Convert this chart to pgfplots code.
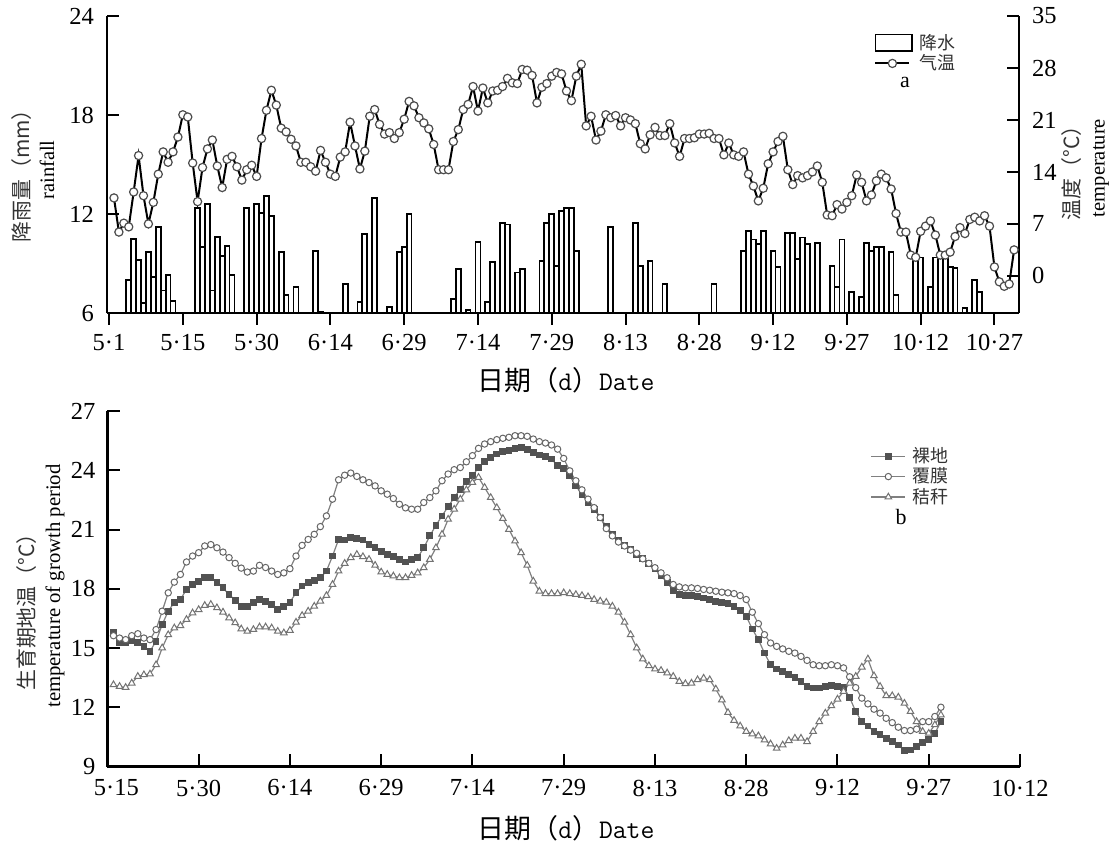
\documentclass[border=0pt]{standalone}
\usepackage{fontspec}
\setmainfont{Liberation Serif}
\newfontfamily\cjk{Noto Sans CJK SC}
\usepackage{pgfplots}
\pgfplotsset{compat=1.18}
\pgfplotsset{
  common/.style={
    scale only axis,
    major tick length=5.8bp,
    tick style={black, line width=1bp},
    axis line style={-, line width=1.3bp},
    tick label style={font=\fontsize{12.3}{13}\selectfont},
    /pgf/number format/assume math mode=true,
  },
  leg/.style={legend style={draw=none, fill=none, inner sep=0pt, row sep=0pt,
    column sep=2.5bp,
    nodes={inner sep=0.6bp},
    font=\cjk\fontsize{9}{10}\selectfont, text=black!80,
    anchor=north west}, legend cell align=left},
}
\begin{document}
\begin{tikzpicture}
\useasboundingbox (0bp,0bp) rectangle (556.5bp,-422bp);

% ---------- top: rainfall bars ----------
\begin{axis}[common, axis on top,
  at={(53.5bp,-156.5bp)}, anchor=south west,
  width=456bp, height=148.5bp,
  xmin=-1.42, xmax=184,
  ymin=6, ymax=24, ytick={6,12,18,24},
  axis x line*=bottom, axis y line*=left,
  xtick align=inside, ytick align=inside,
  xtick={-1,14,...,179},
  xticklabels={5·1,5·15,5·30,6·14,6·29,7·14,7·29,8·13,8·28,9·12,9·27,10·12,10·27},
  xticklabel style={yshift=-1.5bp},
  yticklabel style={xshift=-3bp},
  ybar, bar width=1,
]
\addplot[draw=black, fill=white, line width=0.9bp] coordinates {
(3,7.98)(4,10.5)(5,9.19)(6,6.59)(7,9.68)(8,8.18)(9,11.19)(10,7.37)(11,8.28)(12,6.75)
(17,12.38)(18,9.98)(19,12.6)(20,7.37)(21,10.6)(22,9.45)(23,10.08)(24,8.28)
(27,12.38)(29,12.6)(30,12.08)(31,13.09)(32,11.88)(34,9.68)(35,7.09)(37,7.56)
(41,9.76)(42,6.08)(47,7.76)(50,6.65)(51,10.77)(53,12.97)(56,6.35)(58,9.68)(59,9.98)(60,11.98)
(69,6.87)(70,8.67)(72,6.18)(74,10.28)(76,6.67)(77,9.09)(79,11.47)(80,11.37)(82,8.46)(83,8.67)
(87,9.17)(88,11.47)(89,11.98)(90,8.87)(91,12.18)(92,12.37)(93,12.37)(94,9.77)
(101,11.19)(106,11.47)(107,8.87)(109,9.17)(112,7.74)(122,7.74)
(128,9.76)(129,10.97)(130,10.46)(131,10.16)(132,10.97)(134,9.76)(135,8.77)(137,10.87)(138,10.87)
(139,9.25)(140,10.58)(141,10.16)(143,10.26)(146,8.87)(147,7.6)(148,10.46)(150,7.25)(152,6.95)
(153,10.26)(154,9.78)(155,9.98)(156,9.98)(158,9.68)(159,7.09)(163,9.45)(164,9.37)(166,7.6)
(167,9.37)(168,9.37)(169,9.37)(170,8.8)(171,8.71)(173,6.28)(175,8.0)(176,7.25)
};
\end{axis}

% ---------- top: temperature ----------
\begin{axis}[common, leg,
  at={(53.5bp,-156.5bp)}, anchor=south west,
  width=456bp, height=148.5bp,
  xmin=-1.42, xmax=184,
  ymin=-5, ymax=35, ytick={0,7,...,35},
  axis x line=none, axis y line*=right,
  ytick align=inside,
  yticklabel style={xshift=3bp},
  legend style={at={(0.841,0.945)}},
]
\addlegendimage{legend image code/.code={\draw[draw=black,fill=white,line width=0.9bp] (0cm,-4.2bp) rectangle (0.65cm,4.2bp);}}
\addlegendentry{降水}
\addplot[black, line width=1bp, mark=*, mark size=2.05bp,
  mark options={fill=white, draw=black!70, line width=0.6bp}] coordinates {
(0,10.5)(1,5.9)(2,7.1)(3,6.6)(4,11.3)(5,16.2)(6,10.8)(7,7.0)(8,9.9)(9,13.7)
(10,16.7)(11,15.3)(12,16.7)(13,18.7)(14,21.7)(15,21.4)(16,15.2)(17,10.0)(18,14.6)(19,17.1)
(20,18.3)(21,14.8)(22,11.9)(23,15.7)(24,16.1)(25,14.7)(26,12.9)(27,14.3)(28,14.9)(29,13.4)
(30,18.5)(31,22.3)(32,25.0)(33,23.0)(34,19.9)(35,19.4)(36,18.4)(37,17.5)(38,15.3)(39,15.3)
(40,14.7)(41,14.1)(42,16.9)(43,15.3)(44,13.7)(45,13.4)(46,16.0)(47,16.7)(48,20.7)(49,17.5)
(50,14.4)(51,16.8)(52,21.5)(53,22.4)(54,20.4)(55,19.1)(56,19.3)(57,18.5)(58,19.3)(59,21.1)
(60,23.5)(61,22.9)(62,21.3)(63,20.6)(64,19.8)(65,17.7)(66,14.3)(67,14.3)(68,14.3)(69,18.1)
(70,19.7)(71,22.4)(72,23.1)(73,25.5)(74,22.2)(75,25.3)(76,23.3)(77,24.9)(78,25.0)(79,25.5)
(80,26.6)(81,26.0)(82,25.9)(83,27.8)(84,27.7)(85,27.0)(86,23.3)(87,25.4)(88,25.9)(89,26.9)
(90,27.4)(91,27.2)(92,24.9)(93,23.6)(94,26.9)(95,28.5)(96,20.2)(97,21.5)(98,18.3)(99,19.5)
(100,21.7)(101,21.3)(102,21.6)(103,20.2)(104,21.3)(105,21.0)(106,20.5)(107,17.8)(108,17.1)(109,19.0)
(110,20.0)(111,18.9)(112,18.9)(113,20.5)(114,17.9)(115,16.1)(116,18.5)(117,18.5)(118,18.6)(119,19.1)
(120,19.1)(121,19.2)(122,18.5)(123,18.5)(124,16.3)(125,17.9)(126,16.3)(127,16.1)(128,16.7)(129,13.7)
(130,12.1)(131,10.1)(132,11.8)(133,15.1)(134,16.7)(135,18.1)(136,18.8)(137,14.3)(138,12.3)(139,13.5)
(140,13.2)(141,13.5)(142,14.0)(143,14.8)(144,12.6)(145,8.2)(146,8.1)(147,9.6)(148,9.0)(149,9.9)
(150,10.8)(151,13.6)(152,12.6)(153,10.1)(154,10.9)(155,12.8)(156,13.7)(157,13.2)(158,11.7)(159,8.4)
(160,5.9)(161,5.9)(162,2.8)(163,2.5)(164,6.0)(165,6.7)(166,7.4)(167,5.5)(168,2.8)(169,2.8)
(170,3.2)(171,5.3)(172,6.5)(173,5.7)(174,7.6)(175,7.9)(176,7.4)(177,8.1)(178,6.7)(179,1.2)
(180,-0.8)(181,-1.4)(182,-1.1)(183,3.5)
};
\addlegendentry{气温}
\end{axis}

% ---------- bottom: soil temperature ----------
\begin{axis}[common, leg,
  at={(53.7bp,-383.35bp)}, anchor=south west,
  width=456.3bp, height=177.85bp,
  major tick length=6.5bp,
  xmin=0, xmax=150, ymin=9, ymax=27, ytick={9,12,...,27},
  axis x line*=bottom, axis y line*=left,
  xtick align=inside, ytick align=inside,
  xtick={0,15,...,150},
  xticklabels={\hspace*{9bp}5·15,5·30,6·14,6·29,7·14,7·29,8·13,8·28,9·12,9·27,10·12},
  xticklabel style={yshift=-3bp},
  yticklabel style={xshift=-2.5bp},
  legend style={at={(0.836,0.903)}},
]
\addplot[gray, line width=0.6bp, mark=square*, mark size=1.4bp,
  mark options={fill=black!68, draw=black!68}] coordinates {
(1,15.8)(2,15.29)(3,15.29)(4,15.4)(5,15.29)(6,15.09)(7,14.84)(8,15.35)(9,16.19)(10,16.87)
(11,17.32)(12,17.46)(13,17.97)(14,18.22)(15,18.36)(16,18.56)(17,18.56)(18,18.31)(19,18.05)(20,17.71)
(21,17.43)(22,17.12)(23,17.09)(24,17.29)(25,17.46)(26,17.38)(27,17.21)(28,16.95)(29,17.12)(30,17.32)
(31,17.8)(32,18.14)(33,18.31)(34,18.44)(35,18.56)(36,18.9)(37,19.66)(38,20.5)(39,20.47)(40,20.59)
(41,20.56)(42,20.47)(43,20.25)(44,20.08)(45,19.91)(46,19.74)(47,19.63)(48,19.49)(49,19.36)(50,19.49)
(51,19.58)(52,20.08)(53,20.68)(54,21.22)(55,21.69)(56,22.16)(57,22.62)(58,23.04)(59,23.42)(60,23.72)
(61,24.14)(62,24.43)(63,24.65)(64,24.82)(65,24.94)(66,25.02)(67,25.11)(68,25.16)(69,25.07)(70,24.9)
(71,24.77)(72,24.7)(73,24.57)(74,24.23)(75,24.09)(76,23.72)(77,23.21)(78,22.79)(79,22.37)(80,22.03)
(81,21.61)(82,21.15)(83,20.76)(84,20.47)(85,20.2)(86,20.0)(87,19.74)(88,19.52)(89,19.29)(90,19.02)
(91,18.68)(92,18.31)(93,17.93)(94,17.71)(95,17.66)(96,17.66)(97,17.63)(98,17.54)(99,17.46)(100,17.38)
(101,17.29)(102,17.26)(103,17.12)(104,16.92)(105,16.61)(106,15.97)(107,15.43)(108,14.75)(109,14.16)(110,13.94)
(111,13.82)(112,13.65)(113,13.53)(114,13.31)(115,13.06)(116,12.98)(117,12.98)(118,13.06)(119,13.09)(120,13.06)
(121,13.0)(122,12.5)(123,11.79)(124,11.28)(125,11.06)(126,10.78)(127,10.61)(128,10.44)(129,10.27)(130,10.1)
(131,9.81)(132,9.85)(133,10.02)(134,10.22)(135,10.39)(136,10.69)(137,11.28)
};
\addlegendentry{裸地}
\addplot[gray, line width=0.6bp, mark=*, mark size=1.6bp,
  mark options={fill=white, draw=black!60, line width=0.5bp}] coordinates {
(1,15.63)(2,15.51)(3,15.43)(4,15.63)(5,15.73)(6,15.51)(7,15.43)(8,15.94)(9,16.87)(10,17.8)
(11,18.34)(12,18.73)(13,19.36)(14,19.66)(15,19.83)(16,20.17)(17,20.24)(18,20.08)(19,19.86)(20,19.58)
(21,19.29)(22,19.05)(23,18.85)(24,18.9)(25,19.19)(26,19.08)(27,18.9)(28,18.73)(29,18.81)(30,19.02)
(31,19.66)(32,20.2)(33,20.5)(34,20.76)(35,21.15)(36,21.69)(37,22.54)(38,23.52)(39,23.75)(40,23.86)
(41,23.69)(42,23.52)(43,23.38)(44,23.21)(45,22.96)(46,22.79)(47,22.57)(48,22.28)(49,22.1)(50,22.03)
(51,22.03)(52,22.37)(53,22.62)(54,22.96)(55,23.47)(56,23.81)(57,24.03)(58,24.14)(59,24.43)(60,24.74)
(61,25.11)(62,25.33)(63,25.45)(64,25.55)(65,25.62)(66,25.67)(67,25.75)(68,25.75)(69,25.72)(70,25.58)
(71,25.45)(72,25.38)(73,25.28)(74,25.07)(75,24.6)(76,23.97)(77,23.47)(78,23.01)(79,22.54)(80,22.11)
(81,21.61)(82,21.05)(83,20.68)(84,20.37)(85,20.17)(86,19.96)(87,19.8)(88,19.52)(89,19.29)(90,19.07)
(91,18.81)(92,18.56)(93,18.22)(94,18.1)(95,18.05)(96,18.05)(97,18.02)(98,17.97)(99,17.93)(100,17.88)
(101,17.83)(102,17.8)(103,17.76)(104,17.66)(105,17.46)(106,16.82)(107,16.24)(108,15.68)(109,15.26)(110,15.09)
(111,14.96)(112,14.84)(113,14.75)(114,14.58)(115,14.38)(116,14.16)(117,14.11)(118,14.11)(119,14.16)(120,14.11)
(121,14.0)(122,13.55)(123,13.0)(124,12.47)(125,12.18)(126,11.91)(127,11.71)(128,11.45)(129,11.23)(130,11.0)
(131,10.83)(132,10.83)(133,10.9)(134,11.28)(135,11.28)(136,11.54)(137,12.01)
};
\addlegendentry{覆膜}
\addplot[gray, line width=0.6bp, mark=triangle*, mark size=1.9bp,
  mark options={fill=white, draw=black!55, line width=0.5bp}] coordinates {
(1,13.15)(2,13.06)(3,13.01)(4,13.23)(5,13.57)(6,13.65)(7,13.69)(8,14.16)(9,15.01)(10,15.68)
(11,16.02)(12,16.14)(13,16.45)(14,16.78)(15,16.95)(16,17.16)(17,17.21)(18,17.04)(19,16.82)(20,16.53)
(21,16.28)(22,15.97)(23,15.85)(24,15.94)(25,16.07)(26,16.07)(27,16.02)(28,15.85)(29,15.77)(30,15.9)
(31,16.31)(32,16.65)(33,16.87)(34,17.12)(35,17.38)(36,17.66)(37,18.22)(38,18.9)(39,19.29)(40,19.58)
(41,19.74)(42,19.63)(43,19.49)(44,19.19)(45,18.85)(46,18.73)(47,18.65)(48,18.56)(49,18.56)(50,18.68)
(51,18.81)(52,19.07)(53,19.49)(54,20.08)(55,20.76)(56,21.52)(57,22.03)(58,22.54)(59,23.01)(60,23.38)
(61,23.64)(62,23.13)(63,22.62)(64,22.11)(65,21.56)(66,21.01)(67,20.42)(68,19.83)(69,19.19)(70,18.39)
(71,17.88)(72,17.76)(73,17.76)(74,17.76)(75,17.8)(76,17.76)(77,17.71)(78,17.66)(79,17.6)(80,17.46)
(81,17.38)(82,17.32)(83,17.12)(84,16.82)(85,16.31)(86,15.68)(87,15.01)(88,14.45)(89,14.11)(90,13.94)
(91,13.87)(92,13.74)(93,13.57)(94,13.31)(95,13.2)(96,13.23)(97,13.4)(98,13.48)(99,13.4)(100,12.93)
(101,12.38)(102,11.74)(103,11.34)(104,11.06)(105,10.78)(106,10.66)(107,10.56)(108,10.35)(109,10.15)(110,9.93)
(111,10.1)(112,10.32)(113,10.44)(114,10.44)(115,10.27)(116,10.78)(117,11.28)(118,11.71)(119,12.08)(120,12.42)
(121,12.81)(122,13.23)(123,13.57)(124,14.04)(125,14.45)(126,13.6)(127,13.06)(128,12.59)(129,12.59)(130,12.52)
(131,12.21)(132,11.79)(133,11.28)(134,10.78)(135,10.69)(136,11.12)(137,11.62)
};
\addlegendentry{秸秆}
\end{axis}

% ---------- labels ----------
\node[rotate=90, font=\cjk\fontsize{10.5}{12}\selectfont, text=black!80] at (11bp,-85.5bp) {降雨量（mm）};
\node[rotate=90, font=\fontsize{10.3}{12}\selectfont] at (23.5bp,-85bp) {rainfall};
\node[rotate=90, font=\cjk\fontsize{10.5}{12}\selectfont, text=black!80] at (536bp,-84bp) {温度（°C）};
\node[rotate=90, font=\fontsize{10.3}{12}\selectfont] at (550.5bp,-84bp) {temperature};
\node[rotate=90, font=\cjk\fontsize{10.5}{12}\selectfont, text=black!80] at (13.5bp,-303.5bp) {生育期地温（°C）};
\node[rotate=90, font=\fontsize{10.4}{12}\selectfont] at (27.5bp,-293bp) {temperature of growth period};
\node[font=\fontsize{13.5}{15}\selectfont] at (283bp,-190bp) {{\cjk 日期（}{\ttfamily d}{\cjk ）}{\ttfamily Date}};
\node[font=\fontsize{13.5}{15}\selectfont] at (283bp,-414bp) {{\cjk 日期（}{\ttfamily d}{\cjk ）}{\ttfamily Date}};
\node[font=\fontsize{11}{12}\selectfont] at (452.5bp,-41bp) {a};
\node[font=\fontsize{11}{12}\selectfont] at (450.5bp,-258.35bp) {b};
\end{tikzpicture}
\end{document}
